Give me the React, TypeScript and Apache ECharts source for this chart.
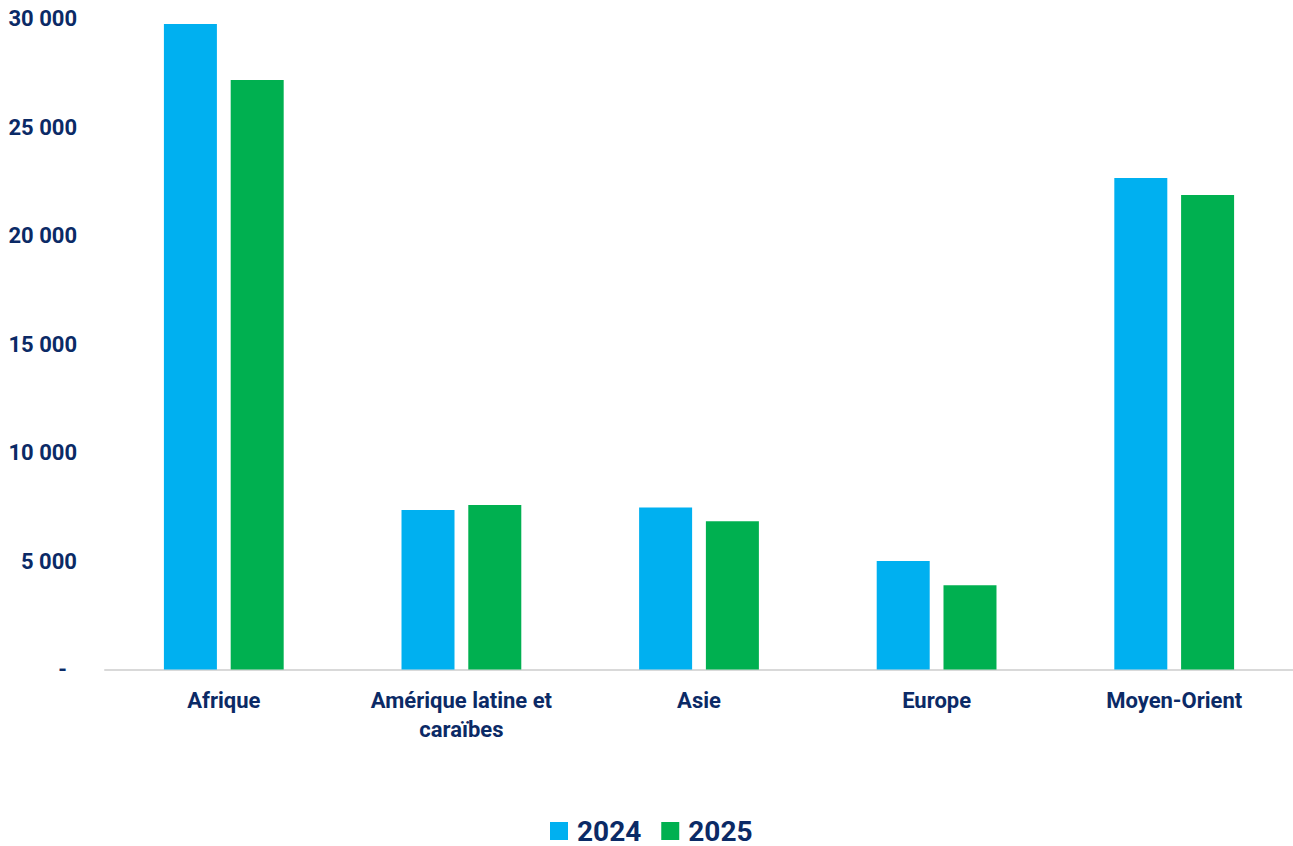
import React, { useEffect, useRef } from "react";
import * as echarts from "echarts";

const categories = ["Afrique", "Amérique latine et\ncaraïbes", "Asie", "Europe", "Moyen-Orient"];
const values2024 = [29750, 7350, 7470, 5000, 22650];
const values2025 = [27170, 7580, 6830, 3880, 21870];
const yTicks = { min: 0, max: 30000, interval: 5000 };

const TEXT = "#0B2A66";
const FONT = "Roboto, 'Liberation Sans', Arial, sans-serif";

function fmt(v: number): string {
  if (v === 0) return "{z|-}";
  return String(v).replace(/\B(?=(\d{3})+(?!\d))/g, " ");
}

export default function App() {
  const ref = useRef<HTMLDivElement>(null);
  useEffect(() => {
    if (!ref.current) return;
    const chart = echarts.init(ref.current, undefined, { renderer: "svg" });
    chart.setOption({
      animation: false,
      backgroundColor: "#ffffff",
      textStyle: { fontFamily: FONT },
      grid: { left: 105, right: -4, top: 18.5, bottom: 176.5, containLabel: false },
      legend: {
        left: 545,
        top: 809,
        itemWidth: 18,
        itemHeight: 18,
        itemGap: 20,
        icon: "rect",
        textStyle: { color: TEXT, fontSize: 28, fontWeight: "bold", fontFamily: FONT, padding: [0, 0, 0, 4], lineHeight: 34 },
        data: ["2024", "2025"],
      },
      xAxis: {
        type: "category",
        data: categories,
        axisLine: { show: true, lineStyle: { color: "#D9D9D9", width: 2 } },
        axisTick: { show: false },
        axisLabel: {
          color: TEXT,
          fontSize: 22,
          fontWeight: "bold",
          fontFamily: FONT,
          lineHeight: 29,
          margin: 16,
          interval: 0,
        },
      },
      yAxis: {
        type: "value",
        min: yTicks.min,
        max: yTicks.max,
        interval: yTicks.interval,
        splitLine: { show: false },
        axisLine: { show: false },
        axisTick: { show: false },
        axisLabel: {
          color: TEXT,
          fontSize: 22,
          fontWeight: "bold",
          fontFamily: FONT,
          margin: 28,
          align: "right",
          formatter: (v: number) => fmt(v),
          rich: {
            z: { color: TEXT, fontSize: 22, fontWeight: "bold", fontFamily: FONT, padding: [0, 10, 0, 0] },
          },
        },
      },
      series: [
        {
          name: "2024",
          type: "bar",
          data: values2024,
          barWidth: 53,
          barGap: "26%",
          itemStyle: { color: "#00B0F0" },
        },
        {
          name: "2025",
          type: "bar",
          data: values2025,
          barWidth: 53,
          barGap: "26%",
          itemStyle: { color: "#00B050" },
        },
      ],
    });
    return () => chart.dispose();
  }, []);
  return (
    <div
      ref={ref}
      style={{ position: "absolute", left: 0, top: 0, width: 1293, height: 846 }}
    />
  );
}
